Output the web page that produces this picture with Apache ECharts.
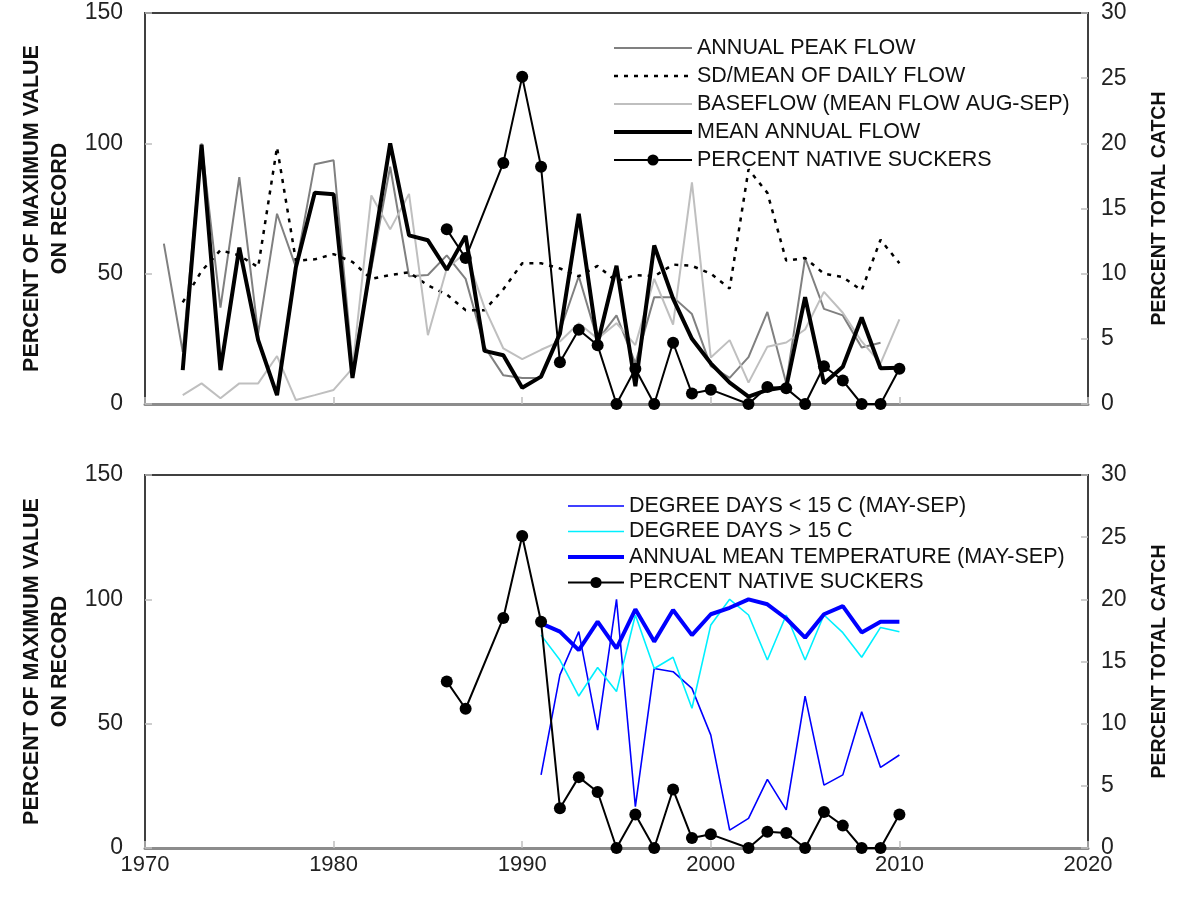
<!DOCTYPE html>
<html>
<head>
<meta charset="utf-8">
<script src="https://cdn.jsdelivr.net/npm/echarts@6/dist/echarts.min.js"></script>
<style>
html,body{margin:0;padding:0;background:#fff;}
#chart{width:1181px;height:903px;}
</style>
</head>
<body>
<div id="chart"></div>
<script>
// ---- DATA ----
const flowYears = [1971,1972,1973,1974,1975,1976,1977,1978,1979,1980,1981,1982,1983,1984,1985,1986,1987,1988,1989,1990,1991,1992,1993,1994,1995,1996,1997,1998,1999,2000,2001,2002,2003,2004,2005,2006,2007,2008,2009,2010];
const peakFlow = [61.5,20,100,37,87,27,73,52.5,92,93.5, 15,52,91,49,49.5,57,48,22,11,10, 10,28,49,24.5,34,15.6,41,41,34.5,14.5, 10,18,35.3,8,56,36.5,34,21.7,23.5,null];
const sdMean = [null,39,51,59,57,52.5,98.5,55,55.5,57.5, 54.5,48,49.5,50.5,45.5,42,36,36,44,54, 54,52,49,53,47,49.5,49,53.5,53,50, 44.3,90,81,55,56,50,48.7,43.6,63,54];
const baseflow = [null,3.4,7.9,2.2,7.9,7.9,18.4,1.5,3.4,5.4, 13.7,80,67,80.6,26.4,52,58,37,21.3,17.2, 20.8,24,31,25,31,22.6,48,30.5,85,17.8, 24.5,8.2,22,23.6,28.6,43,35,24,15.6,32.5];
const meanFlow = [null,13,99.5,13,60,24.5,3.4,52.5,81,80.5, 10,55,100,64.7,62.8,51.5,64.5,20.4,18.7,6.2, 10.5,27,73,23.2,53,6.8,60.8,40.4,25,15.6, 8.2,2.8,5.4,6.5,41,7.9,14.3,33.2,13.7,13.9];
const suckers = [null,null,null,null,null,null,null,null,null,null, null,null,null,null,null,13.4,11.2,null,18.5,25.1, 18.2,3.2,5.7,4.5,0,2.7,0,4.7,0.8,1.1, null,0,1.3,1.2,0,2.9,1.8,0,0,2.7];

const tempYears = [1991,1992,1993,1994,1995,1996,1997,1998,1999,2000,2001,2002,2003,2004,2005,2006,2007,2008,2009,2010];
const ddBelow15 = [29.4,69.6,87,47.4,100,16.6,72.2,70.9,64.2,45.4,7.2,11.9,27.6,15.3,61.1,25.3,29.4,54.8,32.4,37.4];
const ddAbove15 = [85.6,75.6,61.1,72.6,62.9,93.7,72.2,76.7,56.2,89.7,100,93.7,75.6,93.7,75.6,93.7,86.6,76.7,88.7,87];
const meanTemp = [90.3,87,79.6,91,80.3,96,83,95.7,85.6,94,96.6,100,98,92.3,84.6,94,97.3,86.7,91,91];

const leftTitle = 'PERCENT OF MAXIMUM VALUE\nON RECORD';
const rightTitle = 'PERCENT TOTAL CATCH';
const topNames = ['ANNUAL PEAK FLOW','SD/MEAN OF DAILY FLOW','BASEFLOW (MEAN FLOW AUG-SEP)','MEAN ANNUAL FLOW','PERCENT NATIVE SUCKERS'];
const botNames = ['DEGREE DAYS < 15 C (MAY-SEP)','DEGREE DAYS > 15 C','ANNUAL MEAN TEMPERATURE (MAY-SEP)','PERCENT NATIVE SUCKERS'];

function pairs(xs, ys){ const out=[]; for(let i=0;i<xs.length;i++){ if(ys[i]!==null && ys[i]!==undefined) out.push([xs[i], ys[i]]);} return out; }

const FONT = 'Liberation Sans';
const chart = echarts.init(document.getElementById('chart'));

function xAx(gi, showLabels){
  return {
    type:'value', gridIndex:gi, min:1970, max:2020, interval:10,
    axisLine:{show:true, onZero:false, lineStyle:{color:'#8c8c8c', width:3}},
    axisTick:{show:true, inside:true, length:7, lineStyle:{color:'#bfbfbf', width:1.5}},
    axisLabel:{show:showLabels, color:'#222', fontSize:22, fontFamily:FONT, margin:6, formatter:(v)=>String(v)},
    splitLine:{show:false}
  };
}
function yLeft(gi){
  return {
    type:'value', gridIndex:gi, min:0, max:150, interval:50, position:'left',
    name:leftTitle, nameLocation:'middle', nameGap:64, nameRotate:90,
    nameTextStyle:{fontFamily:FONT, fontWeight:'bold', fontSize:21.5, color:'#111', lineHeight:28},
    axisLine:{show:true, lineStyle:{color:'#404040', width:2}},
    axisTick:{show:true, inside:true, length:7, lineStyle:{color:'#bfbfbf', width:1.5}},
    axisLabel:{color:'#222', fontSize:23, fontFamily:FONT, margin:22},
    splitLine:{show:false}
  };
}
function yRight(gi){
  return {
    type:'value', gridIndex:gi, min:0, max:30, interval:5, position:'right',
    name:rightTitle, nameLocation:'middle', nameGap:62, nameRotate:90,
    nameTextStyle:{fontFamily:FONT, fontWeight:'bold', fontSize:19.5, color:'#111'},
    axisLine:{show:true, lineStyle:{color:'#404040', width:2}},
    axisTick:{show:true, inside:true, length:7, lineStyle:{color:'#bfbfbf', width:1.5}},
    axisLabel:{color:'#222', fontSize:23, fontFamily:FONT, margin:13},
    splitLine:{show:false}
  };
}
function lineSeries(name, xi, yi, data, color, width, type, z){
  return {
    name, type:'line', xAxisIndex:xi, yAxisIndex:yi, data,
    symbol:'none', showSymbol:false, smooth:false, z:z||2,
    lineStyle:{color, width, type:type||'solid'}, itemStyle:{color},
    emphasis:{disabled:true}
  };
}
function suckerSeries(xi, yi){
  return {
    name:'PERCENT NATIVE SUCKERS', type:'line', xAxisIndex:xi, yAxisIndex:yi,
    data:pairs(flowYears, suckers), symbol:'circle', symbolSize:12, showSymbol:true, z:6,
    lineStyle:{color:'#000', width:2}, itemStyle:{color:'#000'}, emphasis:{disabled:true}
  };
}
function legItem(name, width, type, hasDot){
  const it = {name, lineStyle:{width, type:type||'solid'}};
  if(!hasDot) it.itemStyle = {opacity:0};
  return it;
}

const option = {
  backgroundColor:'#fff',
  animation:false,
  grid:[
    {left:145, right:93, top:13, height:391, show:true, borderColor:'#404040', borderWidth:2, backgroundColor:'transparent'},
    {left:145, right:93, top:475, height:373, show:true, borderColor:'#404040', borderWidth:2, backgroundColor:'transparent'}
  ],
  xAxis:[xAx(0,false), xAx(1,true)],
  yAxis:[yLeft(0), yRight(0), yLeft(1), yRight(1)],
  legend:[
    {data:[legItem(topNames[0],2), legItem(topNames[1],2.5,[4,6]), legItem(topNames[2],2), legItem(topNames[3],4), legItem(topNames[4],2,'solid',true)],
     orient:'vertical', left:612, top:37, padding:0, itemWidth:78, itemHeight:14, itemGap:6,
     textStyle:{fontFamily:FONT, fontSize:21.5, color:'#111', lineHeight:20}, selectedMode:false},
    {data:[legItem(botNames[0],1.6), legItem(botNames[1],1.6), legItem(botNames[2],4), legItem(botNames[3],2,'solid',true)],
     orient:'vertical', left:566, top:495, padding:0, itemWidth:56, itemHeight:14, itemGap:3.5,
     textStyle:{fontFamily:FONT, fontSize:21.5, color:'#111', lineHeight:20}, selectedMode:false}
  ],
  series:[
    lineSeries(topNames[0],0,0,pairs(flowYears,peakFlow),'#808080',2),
    lineSeries(topNames[1],0,0,pairs(flowYears,sdMean),'#000',2.5,[4,6]),
    lineSeries(topNames[2],0,0,pairs(flowYears,baseflow),'#bfbfbf',2),
    lineSeries(topNames[3],0,0,pairs(flowYears,meanFlow),'#000',4,'solid',4),
    suckerSeries(0,1),
    lineSeries(botNames[0],1,2,pairs(tempYears,ddBelow15),'#0000ff',1.6),
    lineSeries(botNames[1],1,2,pairs(tempYears,ddAbove15),'#00f0ff',1.6),
    lineSeries(botNames[2],1,2,pairs(tempYears,meanTemp),'#0000ff',4,'solid',4),
    suckerSeries(1,3)
  ]
};
chart.setOption(option);
</script>
</body>
</html>
